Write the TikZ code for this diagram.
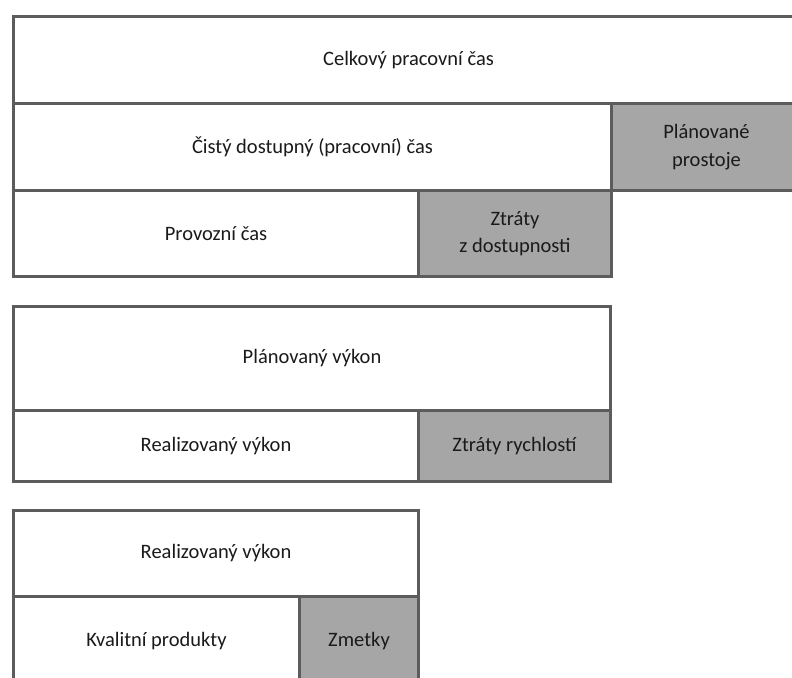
\documentclass[tikz,border=0pt]{standalone}
\usepackage{fontspec}
\setmainfont{Carlito}
\definecolor{edge}{HTML}{5C5C5C}
\definecolor{loss}{HTML}{A6A6A6}
\definecolor{ink}{HTML}{1A1A1A}
\begin{document}
\begin{tikzpicture}[x=1pt,y=-1pt,
  cell/.style={draw=edge,line width=3pt,fill=white,anchor=north west,inner sep=0pt,
    align=center,text=ink,font=\fontsize{20.5}{27.5}\selectfont},
  losscell/.style={cell,fill=loss}]
\useasboundingbox (0,0) rectangle (792,677);
\clip (0,0) rectangle (792,677);
% group 1
\node[cell,minimum width=790,minimum height=87] (total) at (12,15) {Celkový pracovní čas};
\node[cell,minimum width=598,minimum height=87] (net) at (12,102) {Čistý dostupný (pracovní) čas};
\node[losscell,minimum width=190,minimum height=87] (plan) at (610,102) {Plánované\\prostoje};
\node[cell,minimum width=405,minimum height=86] (oper) at (12,189) {Provozní čas};
\node[losscell,minimum width=193,minimum height=86] (avail) at (417,189) {Ztráty\\z dostupnosti};
% group 2
\node[cell,minimum width=597,minimum height=104] (planperf) at (12,305) {Plánovaný výkon};
\node[cell,minimum width=405,minimum height=71] (realperf) at (12,409) {Realizovaný výkon};
\node[losscell,minimum width=192,minimum height=71] (speed) at (417,409) {Ztráty rychlostí};
% group 3
\node[cell,minimum width=405,minimum height=86] (realperf2) at (12,509) {Realizovaný výkon};
\node[cell,minimum width=286,minimum height=90] (good) at (12,595) {Kvalitní produkty};
\node[losscell,minimum width=119,minimum height=90] (scrap) at (298,595) {Zmetky};
\end{tikzpicture}
\end{document}
